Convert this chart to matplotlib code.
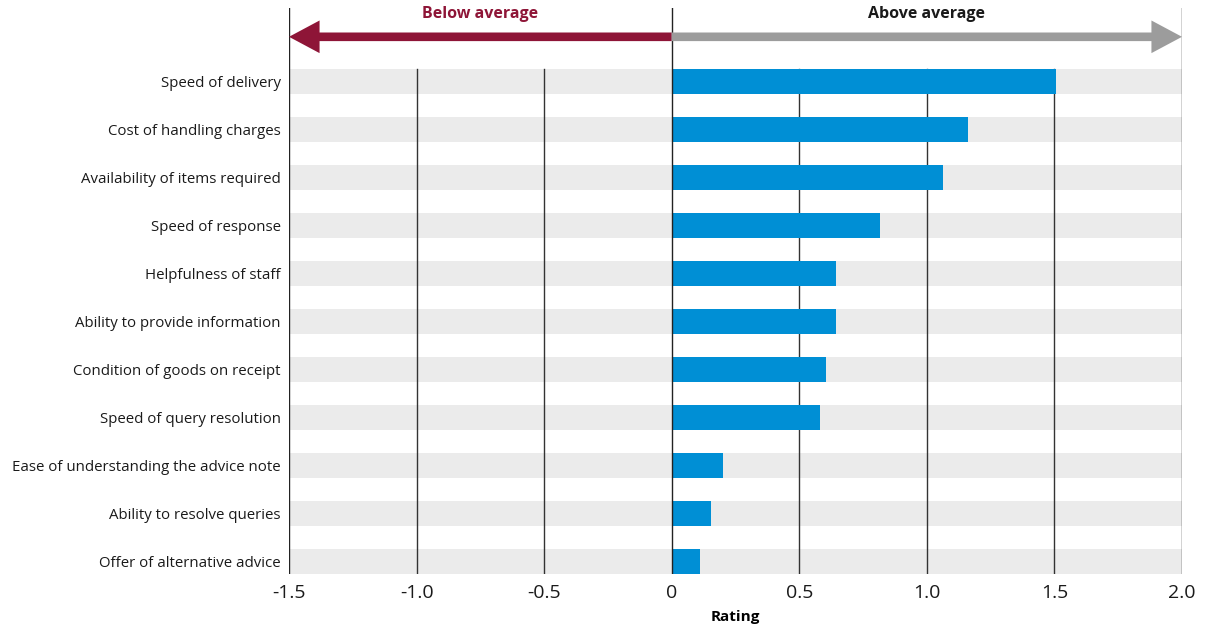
import matplotlib
matplotlib.use("Agg")
import matplotlib.pyplot as plt

categories = [
    "Speed of delivery",
    "Cost of handling charges",
    "Availability of items required",
    "Speed of response",
    "Helpfulness of staff",
    "Ability to provide information",
    "Condition of goods on receipt",
    "Speed of query resolution",
    "Ease of understanding the advice note",
    "Ability to resolve queries",
    "Offer of alternative advice",
]
ratings = [1.505, 1.16, 1.065, 0.815, 0.645, 0.645, 0.605, 0.58, 0.2, 0.155, 0.11]
xticks = [-1.5, -1.0, -0.5, 0, 0.5, 1.0, 1.5, 2.0]
xticklabels = ["-1.5", "-1.0", "-0.5", "0", "0.5", "1.0", "1.5", "2.0"]

FONT = "Open Sans"
BLUE = "#008FD5"
BAND = "#EBEBEB"
RED = "#8E1537"
GREY = "#9C9C9C"

W, H = 1214, 625
fig = plt.figure(figsize=(W / 100, H / 100), dpi=100)
left, right, bottom, top = 289 / W, 1182 / W, (H - 574) / H, (H - 8) / H
ax = fig.add_axes([left, bottom, right - left, top - bottom])

n = len(categories)
ys = list(range(n))
bar_h = 0.52
xmin, xmax = -1.5, 2.0
ax.set_xlim(xmin, xmax)
ylo = n - 1 + 0.26
yhi = -1.53
ax.set_ylim(ylo, yhi)

# background bands
ax.barh(ys, [xmax - xmin] * n, left=xmin, height=bar_h, color=BAND, zorder=0)
# grid lines
for x in [-1.0, -0.5, 0.5, 1.0, 1.5]:
    ax.plot([x, x], [ylo, -bar_h / 2], color="#333333", lw=1.0, zorder=1)
for x in [-1.5, 0, 2.0]:
    ax.plot([x, x], [ylo, yhi], color="#222222", lw=1.0, zorder=3)
# bars
ax.barh(ys, ratings, height=bar_h, color=BLUE, zorder=2)

# arrows
ya = -0.93
style = "simple,head_length=2.2,head_width=2.35,tail_width=0.62"
ax.annotate("", xy=(xmin, ya), xytext=(0, ya),
            arrowprops=dict(arrowstyle=style, mutation_scale=10, color=RED, lw=0,
                            shrinkA=0, shrinkB=0), zorder=4)
ax.annotate("", xy=(xmax, ya), xytext=(0, ya),
            arrowprops=dict(arrowstyle=style, mutation_scale=10, color=GREY, lw=0,
                            shrinkA=0, shrinkB=0), zorder=4)
ax.text((xmin + 0) / 2, -1.41, "Below average", color=RED, fontsize=11.5, fontweight="bold",
        family=FONT, ha="center", va="center")
ax.text((xmax + 0) / 2, -1.41, "Above average", color="#1a1a1a", fontsize=11.5, fontweight="bold",
        family=FONT, ha="center", va="center")

ax.set_yticks(ys)
ax.set_yticklabels(categories, family=FONT, fontsize=10.8, color="#1a1a1a")
ax.set_xticks(xticks)
ax.set_xticklabels(xticklabels, family=FONT, fontsize=14, color="#1a1a1a")
ax.tick_params(length=0)
ax.tick_params(axis="y", pad=6)
ax.tick_params(axis="x", pad=7)
ax.set_xlabel("Rating", family=FONT, fontsize=11, fontweight="bold", labelpad=6)
for s in ax.spines.values():
    s.set_visible(False)

fig.savefig("out.png", dpi=100)
